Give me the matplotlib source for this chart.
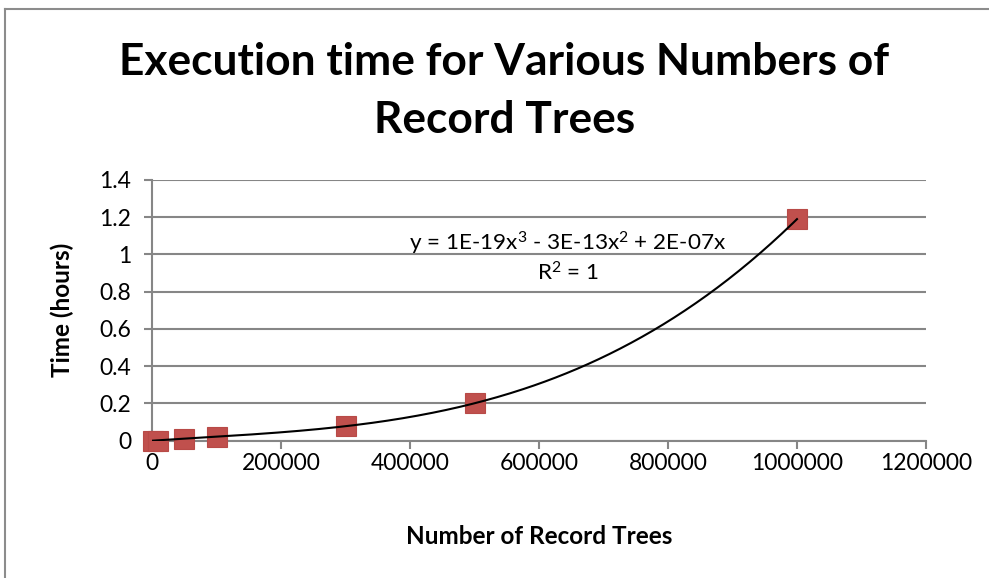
import numpy as np
import matplotlib
matplotlib.use("Agg")
import matplotlib.pyplot as plt
from matplotlib.lines import Line2D

plt.rcParams['font.family'] = ['Lato', 'DejaVu Sans']
plt.rcParams['mathtext.fontset'] = 'custom'
plt.rcParams['mathtext.rm'] = 'Lato'
plt.rcParams['mathtext.it'] = 'Lato'
plt.rcParams['mathtext.default'] = 'regular'

# Data
record_trees = [1000, 10000, 50000, 100000, 300000, 500000, 1000000]
time_hours = [0.0, 0.0, 0.01, 0.02, 0.08, 0.2, 1.19]
x_ticks = [0, 200000, 400000, 600000, 800000, 1000000, 1200000]
y_ticks = [0, 0.2, 0.4, 0.6, 0.8, 1.0, 1.2, 1.4]
y_tick_labels = ["0", "0.2", "0.4", "0.6", "0.8", "1", "1.2", "1.4"]

title_lines = ["Execution time for Various Numbers of", "Record Trees"]
x_label = "Number of Record Trees"
y_label = "Time (hours)"
equation = "y = 1E-19x$^{3}$ - 3E-13x$^{2}$ + 2E-07x"
r2_text = "R$^{2}$ = 1"

W, H = 989, 578
fig = plt.figure(figsize=(W / 100, H / 100), dpi=100)

# outer chart border (top and left visible only)
border_col = '#8c8c8c'
fig.add_artist(Line2D([5 / W, 1.1], [1 - 9 / H, 1 - 9 / H], transform=fig.transFigure,
                      color=border_col, linewidth=1.5))
fig.add_artist(Line2D([5 / W, 5 / W], [-0.1, 1 - 9 / H], transform=fig.transFigure,
                      color=border_col, linewidth=1.5))

ax = fig.add_axes([152 / W, (H - 440.7) / H, (926 - 152) / W, (440.7 - 180) / H])

grid_col = '#868686'
ax.set_xlim(0, 1200000)
ax.set_ylim(0, 1.4)
ax.set_xticks(x_ticks)
ax.set_xticklabels([str(v) for v in x_ticks])
ax.set_yticks(y_ticks)
ax.set_yticklabels(y_tick_labels)
ax.yaxis.grid(True, color=grid_col, linewidth=1.5)
ax.set_axisbelow(True)
for s in ['top', 'right']:
    ax.spines[s].set_visible(False)
for s in ['left', 'bottom']:
    ax.spines[s].set_color(grid_col)
    ax.spines[s].set_linewidth(1.5)
ax.tick_params(axis='both', direction='out', length=6, width=1.5, color=grid_col,
               labelsize=16.5, labelcolor='black')
ax.tick_params(axis='x', pad=3)
ax.tick_params(axis='y', pad=9)

# cubic trendline through origin fitted to the data
xs = np.array(record_trees, dtype=float) / 1e6
ys = np.array(time_hours, dtype=float)
A = np.vstack([xs ** 3, xs ** 2, xs]).T
coef, *_ = np.linalg.lstsq(A, ys, rcond=None)
xf = np.linspace(xs.min(), xs.max(), 300)
yf = coef[0] * xf ** 3 + coef[1] * xf ** 2 + coef[2] * xf

ax.plot(np.array(record_trees), ys, linestyle='none', marker='s', markersize=14,
        markerfacecolor='#C0504D', markeredgecolor='#B84A47', markeredgewidth=0.8,
        zorder=3, clip_on=False)
ax.plot(xf * 1e6, yf, color='black', linewidth=1.5, zorder=4)

ax.text(645000, 1.062, equation, ha='center', va='center', fontsize=16.2)
ax.text(645000, 0.90, r2_text, ha='center', va='center', fontsize=16.2)

fig.text(504 / W, 1 - 62 / H, title_lines[0], ha='center', va='center', fontsize=31.9,
         fontweight='bold')
fig.text(505 / W, 1 - 120 / H, title_lines[1], ha='center', va='center', fontsize=31.9,
         fontweight='bold')
fig.text(539 / W, 1 - 537 / H, x_label, ha='center', va='center', fontsize=17.5,
         fontweight='bold')
fig.text(62 / W, 1 - 310 / H, y_label, ha='center', va='center', fontsize=17.5,
         fontweight='bold', rotation=90)

fig.savefig('out.png', dpi=100)
